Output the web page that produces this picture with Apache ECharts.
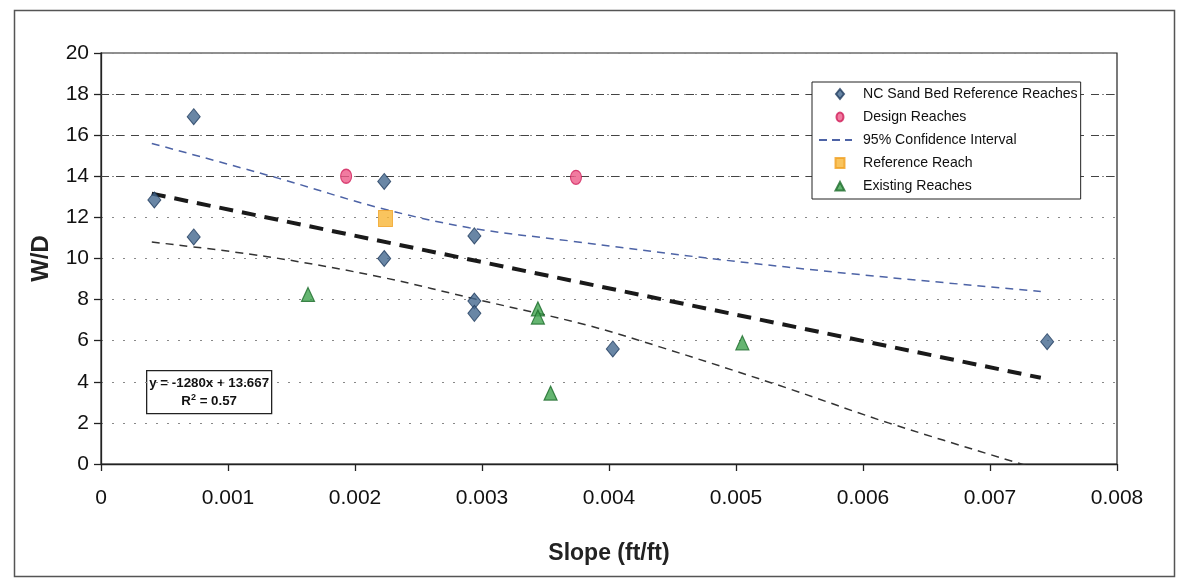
<!DOCTYPE html>
<html>
<head>
<meta charset="utf-8">
<script src="https://cdn.jsdelivr.net/npm/echarts@6/dist/echarts.min.js"></script>
<style>
  html, body { margin: 0; padding: 0; background: #fff; }
  #chart { width: 1185px; height: 579px; }
</style>
</head>
<body>
<div id="chart"></div>
<script>
// ---- Data ----
const ncSandBed = [
  [0.00042, 12.85], [0.00073, 16.9], [0.00073, 11.05], [0.00223, 13.75],
  [0.00223, 10.0], [0.00294, 11.1], [0.00294, 7.93], [0.00294, 7.33],
  [0.00403, 5.6], [0.00745, 5.95]
];
const designReaches = [[0.00193, 14.0], [0.00374, 13.95]];
const referenceReach = [[0.00224, 11.95]];
const existingReaches = [[0.00163, 8.25], [0.00344, 7.55], [0.00344, 7.15], [0.00354, 3.45], [0.00505, 5.9]];
const trendLine = [[0.0004, 13.155], [0.0074, 4.195]];
const ciUpper = [[0.0004, 15.6], [0.0014, 13.9], [0.0022, 12.45], [0.0029, 11.5], [0.0037, 10.85], [0.0048, 10.0], [0.006, 9.2], [0.0074, 8.4]];
const ciLower = [[0.0004, 10.8], [0.0013, 10.1], [0.0022, 9.1], [0.003, 7.95], [0.0038, 6.8], [0.0044, 5.7], [0.0054, 3.7], [0.0062, 2.0], [0.0073, -0.1]];
const dashedGridLevels = [14, 16, 18];
const legendNames = ['NC Sand Bed Reference Reaches', 'Design Reaches', '95% Confidence Interval', 'Reference Reach', 'Existing Reaches'];
const equationText = 'y = -1280x + 13.667';
const r2Text = '0.57';

const FONT = '"Liberation Sans", Arial, sans-serif';

// legend icons drawn inside a 34x10 box (corner moves fix the box size)
const BOX = 'M0,0M34,10';
const iconDiamond = 'path://' + BOX + 'M22,0L26,5L22,10L18,5Z';
const iconCircle = 'path://' + BOX + 'M22,0.5A3.5,4.5,0,1,1,21.99,0.5Z';
const iconRect = 'path://' + BOX + 'M17.5,0L26.5,0L26.5,10L17.5,10Z';
const iconTri = 'path://' + BOX + 'M22,1L26.5,9.5L17.5,9.5Z';
const iconDash = 'path://' + BOX + 'M1,4h8v2h-8z M14,4h8v2h-8z M27,4h7v2h-7z';

const chart = echarts.init(document.getElementById('chart'), null, { renderer: 'canvas' });

chart.setOption({
  backgroundColor: '#ffffff',
  animation: false,
  grid: { left: 101, right: 68, top: 53, bottom: 115, show: true, borderColor: '#222', borderWidth: 1.2, backgroundColor: 'transparent' },
  legend: {
    orient: 'vertical',
    left: 812, top: 82, z: 50,
    backgroundColor: '#fff',
    borderColor: '#222', borderWidth: 1,
    padding: [5, 3, 6, 5],
    itemWidth: 34, itemHeight: 10, itemGap: 9,
    textStyle: { fontFamily: FONT, fontSize: 14.1, color: '#111', padding: [0, 0, 0, 6] },
    data: [
      { name: legendNames[0], icon: iconDiamond },
      { name: legendNames[1], icon: iconCircle },
      { name: legendNames[2], icon: iconDash, itemStyle: { color: '#4d63a6' } },
      { name: legendNames[3], icon: iconRect },
      { name: legendNames[4], icon: iconTri }
    ]
  },
  xAxis: {
    type: 'value', min: 0, max: 0.008, interval: 0.001,
    name: 'Slope (ft/ft)', nameLocation: 'middle', nameGap: 78,
    nameTextStyle: { fontFamily: FONT, fontSize: 23, fontWeight: 'bold', color: '#222' },
    axisLine: { show: true, lineStyle: { color: '#222', width: 1.3 } },
    axisTick: { show: true, length: 7, lineStyle: { color: '#222', width: 1.3 } },
    axisLabel: { fontFamily: FONT, fontSize: 21, color: '#111', margin: 24 },
    splitLine: { show: false }
  },
  yAxis: {
    type: 'value', min: 0, max: 20, interval: 2,
    name: 'W/D', nameLocation: 'middle', nameGap: 48,
    nameTextStyle: { fontFamily: FONT, fontSize: 24, fontWeight: 'bold', color: '#222' },
    axisLine: { show: true, lineStyle: { color: '#222', width: 1.3 } },
    axisTick: { show: true, length: 7, lineStyle: { color: '#222', width: 1.3 } },
    axisLabel: { fontFamily: FONT, fontSize: 21, color: '#111', margin: 12 },
    splitLine: { show: true, lineStyle: { color: '#888', width: 1, type: [2, 9] } }
  },
  series: [
    {
      name: legendNames[2], type: 'line', data: ciUpper, smooth: 0.35,
      symbol: 'none', showSymbol: false, z: 3,
      lineStyle: { color: '#4d63a6', width: 1.5, type: [8, 6] },
      itemStyle: { color: '#4d63a6' },
      markLine: {
        silent: true, symbol: 'none', label: { show: false }, z: 1,
        lineStyle: { color: '#444', width: 1.2, type: [8, 7] },
        data: dashedGridLevels.map(v => ({ yAxis: v }))
      }
    },
    {
      name: 'CI lower', type: 'line', data: ciLower, smooth: 0.35,
      symbol: 'none', showSymbol: false, z: 3,
      lineStyle: { color: '#333', width: 1.5, type: [8, 6] }
    },
    {
      name: 'Trend', type: 'line', data: trendLine,
      symbol: 'none', showSymbol: false, z: 3,
      lineStyle: { color: '#1a1a1a', width: 4, type: [14, 9] }
    },
    {
      name: legendNames[0], type: 'scatter', data: ncSandBed,
      symbol: 'diamond', symbolSize: [13, 16], z: 5,
      itemStyle: { color: '#44688f', borderColor: '#1f3b5e', borderWidth: 1 }
    },
    {
      name: legendNames[1], type: 'scatter', data: designReaches,
      symbol: 'circle', symbolSize: [11, 14], z: 5,
      itemStyle: { color: '#ee5a88', borderColor: '#d01f5a', borderWidth: 1.2 }
    },
    {
      name: legendNames[3], type: 'scatter', data: referenceReach,
      symbol: 'rect', symbolSize: [14, 16], z: 5,
      itemStyle: { color: '#f8b536', borderColor: '#f0a020', borderWidth: 1 }
    },
    {
      name: legendNames[4], type: 'scatter', data: existingReaches,
      symbol: 'triangle', symbolSize: [13, 14], z: 5,
      itemStyle: { color: '#3ea34e', borderColor: '#1b6b2a', borderWidth: 1.2 }
    }
  ],
  graphic: [
    {
      type: 'rect', left: 12, top: 8, z: -10, silent: true,
      shape: { width: 1160, height: 566 },
      style: { fill: 'none', stroke: '#555', lineWidth: 1.5 }
    },
    {
      type: 'group', left: 146, top: 370, z: 100,
      children: [
        { type: 'rect', shape: { x: 0, y: 0, width: 125, height: 43 }, style: { fill: '#fff', stroke: '#222', lineWidth: 1.3 } },
        {
          type: 'text', x: 62.5, y: 4,
          style: {
            text: '{b|' + equationText + '}\n{b|R}{s|2}{b| = ' + r2Text + '}',
            align: 'center', verticalAlign: 'top',
            rich: {
              b: { fontFamily: FONT, fontSize: 13.3, fontWeight: 'bold', fill: '#111', lineHeight: 18 },
              s: { fontFamily: FONT, fontSize: 9, fontWeight: 'bold', fill: '#111', lineHeight: 18, verticalAlign: 'top', padding: [0, 0, 5, 0] }
            }
          }
        }
      ]
    }
  ]
});
</script>
</body>
</html>
